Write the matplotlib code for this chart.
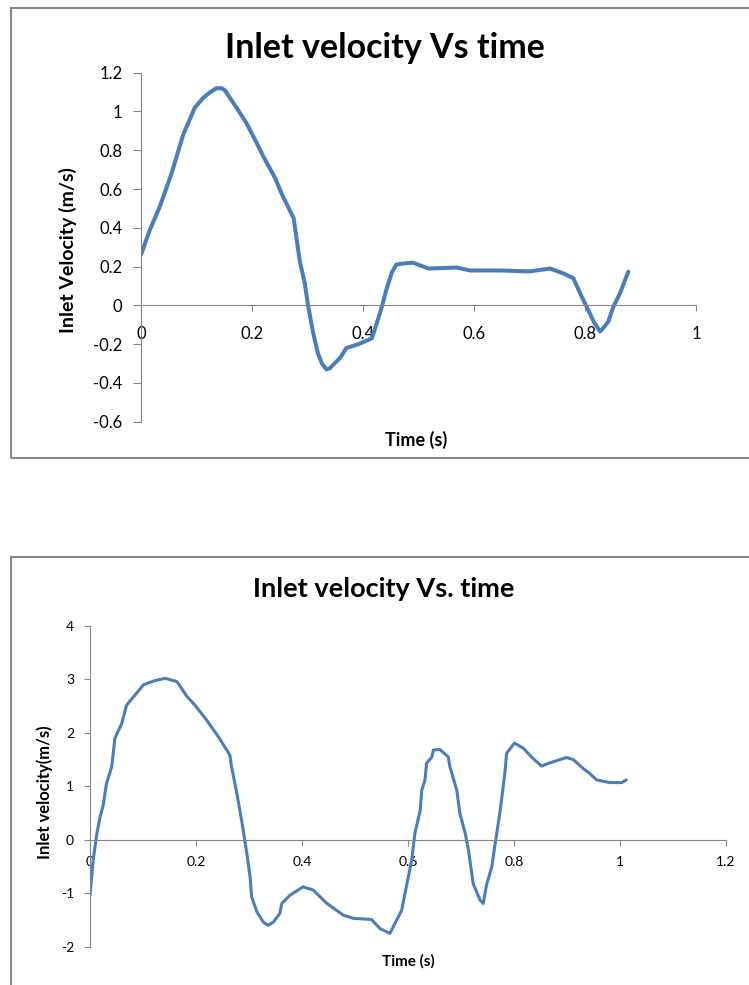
import matplotlib.pyplot as plt
import matplotlib as mpl
from matplotlib.patches import Rectangle
from matplotlib.ticker import FuncFormatter

mpl.rcParams['font.family'] = ['Lato', 'DejaVu Sans']
mpl.rcParams['axes.unicode_minus'] = False

# upper chart
t1 = [0.0, 0.016, 0.034, 0.055, 0.076, 0.097, 0.112, 0.125, 0.136, 0.145, 0.151, 0.172,
      0.19, 0.208, 0.22, 0.241, 0.256, 0.275, 0.286, 0.295, 0.301, 0.31, 0.319, 0.326,
      0.334, 0.34, 0.345, 0.359, 0.37, 0.392, 0.416, 0.425, 0.434, 0.442, 0.452, 0.46,
      0.47, 0.49, 0.518, 0.569, 0.593, 0.647, 0.70, 0.737, 0.761, 0.779, 0.794, 0.803,
      0.815, 0.827, 0.832, 0.842, 0.851, 0.863, 0.878]
v1 = [0.26, 0.39, 0.51, 0.68, 0.88, 1.02, 1.07, 1.10, 1.12, 1.12, 1.11, 1.02,
      0.94, 0.84, 0.77, 0.66, 0.56, 0.45, 0.23, 0.115, 0.0, -0.14, -0.25, -0.30,
      -0.33, -0.325, -0.31, -0.27, -0.22, -0.20, -0.17, -0.09, -0.007, 0.08, 0.17, 0.21,
      0.215, 0.22, 0.19, 0.195, 0.18, 0.18, 0.175, 0.19, 0.165, 0.14, 0.045, -0.007,
      -0.08, -0.135, -0.12, -0.084, -0.007, 0.062, 0.174]

# lower chart
t2 = [0.0, 0.006, 0.013, 0.019, 0.025, 0.031, 0.041, 0.047, 0.06, 0.069, 0.085, 0.101,
      0.123, 0.142, 0.164, 0.183, 0.198, 0.22, 0.242, 0.258, 0.264, 0.267, 0.277, 0.286,
      0.296, 0.302, 0.305, 0.315, 0.327, 0.336, 0.346, 0.358, 0.362, 0.377, 0.402, 0.421,
      0.447, 0.478, 0.497, 0.531, 0.547, 0.566, 0.575, 0.588, 0.598, 0.607, 0.613, 0.623,
      0.626, 0.632, 0.635, 0.645, 0.648, 0.66, 0.676, 0.679, 0.692, 0.698, 0.708, 0.714,
      0.723, 0.736, 0.742, 0.748, 0.758, 0.764, 0.767, 0.774, 0.783, 0.786, 0.801, 0.818,
      0.836, 0.852, 0.868, 0.899, 0.912, 0.931, 0.943, 0.956, 0.981, 1.003, 1.012]
v2 = [-1.04, -0.38, 0.12, 0.43, 0.65, 1.05, 1.37, 1.90, 2.18, 2.52, 2.71, 2.90,
      2.98, 3.02, 2.96, 2.68, 2.52, 2.24, 1.93, 1.68, 1.58, 1.37, 0.87, 0.37,
      -0.26, -0.69, -1.07, -1.35, -1.54, -1.60, -1.54, -1.38, -1.19, -1.04, -0.88, -0.94,
      -1.19, -1.41, -1.47, -1.49, -1.66, -1.75, -1.57, -1.32, -0.82, -0.38, 0.12, 0.55,
      0.93, 1.12, 1.43, 1.55, 1.68, 1.69, 1.55, 1.37, 0.93, 0.49, 0.12, -0.19,
      -0.82, -1.13, -1.19, -0.85, -0.51, -0.10, 0.09, 0.55, 1.27, 1.62, 1.81, 1.71,
      1.52, 1.38, 1.44, 1.54, 1.50, 1.33, 1.24, 1.12, 1.07, 1.07, 1.12]

xt1 = [0, 0.2, 0.4, 0.6, 0.8, 1]
yt1 = [-0.6, -0.4, -0.2, 0, 0.2, 0.4, 0.6, 0.8, 1, 1.2]
xt2 = [0, 0.2, 0.4, 0.6, 0.8, 1, 1.2]
yt2 = [-2, -1, 0, 1, 2, 3, 4]

W, H = 749, 985
fig = plt.figure(figsize=(W / 100, H / 100), dpi=100)

def fx(px):
    return px / W

def fy(py):
    return 1 - py / H

blue = '#4a7ebb'
grey = '#868686'
fmt = FuncFormatter(lambda v, p: '{:g}'.format(round(v, 2)))

# panel frames
fig.patches.append(Rectangle((fx(10.5), fy(457.7)), 1.2, fy(7.5) - fy(457.7),
                             transform=fig.transFigure, fill=False, ec='#888888', lw=1.5))
fig.patches.append(Rectangle((fx(10.5), -0.2), 1.2, fy(556.7) + 0.2,
                             transform=fig.transFigure, fill=False, ec='#888888', lw=1.5))


def style(ax, xt, yt, fs, xpad, ypad, ylen):
    for s in ['top', 'right']:
        ax.spines[s].set_visible(False)
    ax.spines['bottom'].set_position(('data', 0))
    ax.spines['left'].set_color(grey)
    ax.spines['bottom'].set_color(grey)
    ax.set_xticks(xt)
    ax.set_yticks(yt)
    ax.xaxis.set_major_formatter(fmt)
    ax.yaxis.set_major_formatter(fmt)
    ax.tick_params(axis='x', direction='out', length=4, color=grey, labelsize=fs, pad=xpad)
    ax.tick_params(axis='y', direction='out', length=ylen, color=grey, labelsize=fs, pad=ypad)
    ax.patch.set_alpha(0)


# top chart
ax1 = fig.add_axes([fx(141), fy(421.7), fx(696) - fx(141), fy(72.7) - fy(421.7)])
ax1.plot(t1, v1, color=blue, lw=2.9, solid_joinstyle='round', solid_capstyle='round')
ax1.set_xlim(0, 1)
ax1.set_ylim(-0.6, 1.2)
style(ax1, xt1, yt1, 12, 11, 8, 5.5)
fig.text(fx(385), fy(48), 'Inlet velocity Vs time', ha='center', va='center',
         fontsize=24.5, fontweight='bold')
fig.text(fx(68), fy(250), 'Inlet Velocity (m/s)', ha='center', va='center',
         rotation=90, fontsize=14, fontweight='bold')
fig.text(fx(416), fy(440), 'Time (s)', ha='center', va='center',
         fontsize=13, fontweight='bold')

# bottom chart
ax2 = fig.add_axes([fx(90), fy(946.7), fx(726) - fx(90), fy(626) - fy(946.7)])
ax2.plot(t2, v2, color=blue, lw=2.2, solid_joinstyle='round', solid_capstyle='round')
ax2.set_xlim(0, 1.2)
ax2.set_ylim(-2, 4)
style(ax2, xt2, yt2, 10, 8, 7, 4.5)
fig.text(fx(384), fy(589), 'Inlet velocity Vs. time', ha='center', va='center',
         fontsize=19.5, fontweight='bold')
fig.text(fx(45), fy(792), 'Inlet velocity(m/s)', ha='center', va='center',
         rotation=90, fontsize=12, fontweight='bold')
fig.text(fx(408), fy(961), 'Time (s)', ha='center', va='center',
         fontsize=11, fontweight='bold')

fig.savefig('out.png', dpi=100)
